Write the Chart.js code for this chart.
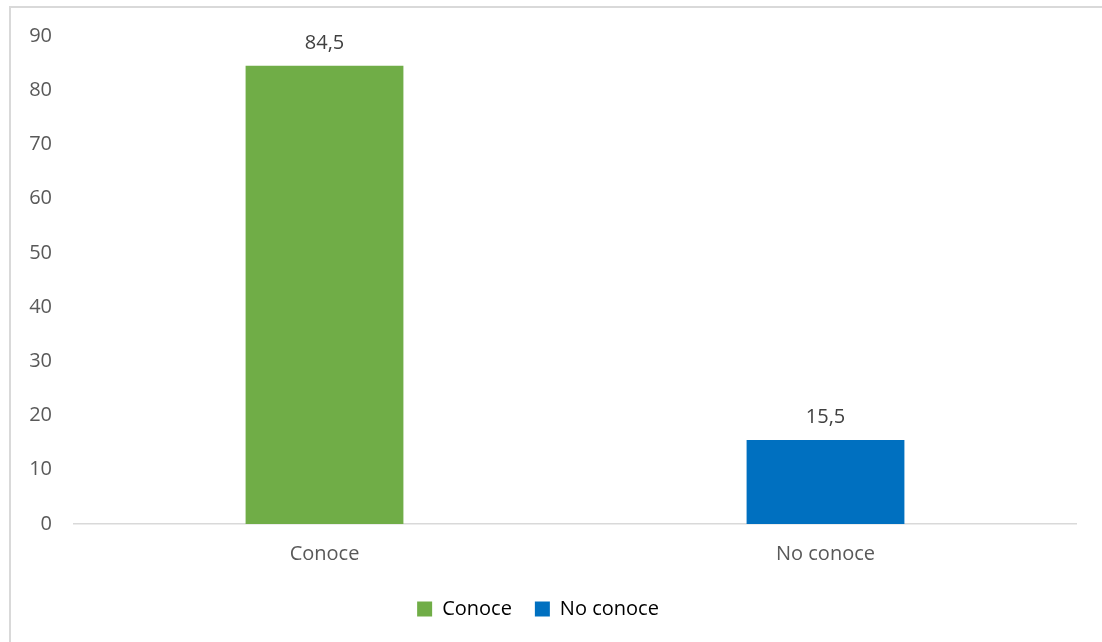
<!DOCTYPE html>
<html>
<head>
<meta charset="utf-8">
<script src="https://cdn.jsdelivr.net/npm/chart.js@4/dist/chart.umd.min.js"></script>
<style>
  html, body { margin: 0; padding: 0; background: #fff; }
  .frame { position: absolute; left: 9px; top: 6px; width: 1200px; height: 700px;
           border-left: 2px solid #d9d9d9; border-top: 2px solid #d9d9d9; }
  .wrap { position: absolute; left: 0; top: 0; width: 1102px; height: 642px; }
</style>
</head>
<body>
<div class="frame"></div>
<div class="wrap"><canvas id="myChart" width="1102" height="642"></canvas></div>
<script>
const categories = ['Conoce', 'No conoce'];
const values = [84.5, 15.5];
const barColors = ['#70AD47', '#0070C0'];
const yTicks = [0, 10, 20, 30, 40, 50, 60, 70, 80, 90];

const fontFamily = '"Open Sans", "Noto Sans", sans-serif';
const textColor = '#595959';

// value labels above each bar
const barLabels = {
    id: 'barLabels',
    afterDatasetsDraw(chart) {
        const ctx = chart.ctx;
        const meta = chart.getDatasetMeta(0);
        ctx.save();
        ctx.font = '20px ' + fontFamily;
        ctx.fillStyle = '#404040';
        ctx.textAlign = 'center';
        ctx.textBaseline = 'middle';
        meta.data.forEach((bar, i) => {
            ctx.fillText(String(values[i]).replace('.', ','), bar.x, bar.y - 23);
        });
        ctx.restore();
    }
};

const data = {
    labels: categories,
    datasets: [{
        label: '',
        data: values,
        backgroundColor: barColors,
        barPercentage: 0.315,
        categoryPercentage: 1
    }]
};

const config = {
    type: 'bar',
    data: data,
    options: {
        responsive: false,
        animation: false,
        layout: { padding: { top: 36, right: 26, left: 0, bottom: 13 } },
        plugins: {
            tooltip: { enabled: false },
            legend: {
                position: 'bottom',
                labels: {
                    font: { size: 20, family: fontFamily },
                    color: textColor,
                    boxWidth: 15,
                    boxHeight: 15,
                    padding: 23,
                    generateLabels: () => categories.map((c, i) => ({
                        text: c,
                        fillStyle: barColors[i],
                        strokeStyle: barColors[i],
                        lineWidth: 0,
                        hidden: false,
                        index: i
                    }))
                }
            }
        },
        scales: {
            x: {
                grid: { display: false },
                border: { display: true, color: '#d9d9d9', width: 1.5 },
                ticks: { font: { size: 20, family: fontFamily }, color: textColor, padding: 10 },
                afterFit: (scale) => { scale.height = 52; }
            },
            y: {
                min: 0,
                max: 90,
                afterBuildTicks: (scale) => { scale.ticks = yTicks.map(v => ({ value: v })); },
                grid: { display: false, drawTicks: false },
                border: { display: false },
                ticks: { font: { size: 20, family: fontFamily }, color: textColor, padding: 22 },
                afterFit: (scale) => { scale.width = 74; }
            }
        }
    },
    plugins: [barLabels]
};

const myChart = new Chart(document.getElementById('myChart'), config);
</script>
</body>
</html>
